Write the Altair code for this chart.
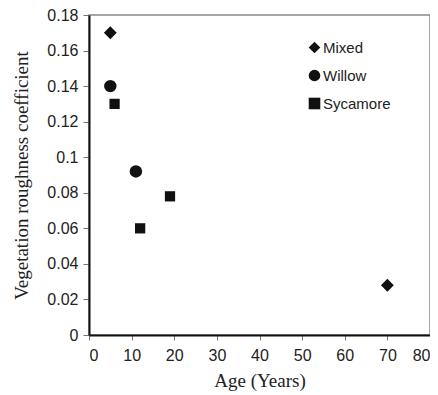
import altair as alt
import pandas as pd

series = ["Mixed", "Mixed", "Willow", "Willow", "Sycamore", "Sycamore", "Sycamore"]
age = [5, 70, 5, 11, 6, 12, 19]
coef = [0.170, 0.028, 0.140, 0.092, 0.130, 0.060, 0.078]

legend_order = ["Mixed", "Willow", "Sycamore"]
marker_sizes = [165, 155, 105]
x_ticks = [0, 10, 20, 30, 40, 50, 60, 70, 80]
y_ticks = [0, 0.02, 0.04, 0.06, 0.08, 0.10, 0.12, 0.14, 0.16, 0.18]

df = pd.DataFrame({"series": series, "age": age, "coef": coef})

base = alt.Chart(df).encode(
    x=alt.X("age:Q", title="Age (Years)",
            scale=alt.Scale(domain=[0, 80], nice=False, zero=False),
            axis=alt.Axis(values=x_ticks, format="d", tickSize=5, labelPadding=7,
                          titlePadding=8)),
    y=alt.Y("coef:Q", title="Vegetation roughness coefficient",
            scale=alt.Scale(domain=[0, 0.18], nice=False),
            axis=alt.Axis(values=y_ticks, format="~g", tickSize=6, labelPadding=5,
                          titlePadding=15)),
    shape=alt.Shape("series:N",
                    scale=alt.Scale(domain=legend_order, range=["diamond", "circle", "square"]),
                    legend=alt.Legend(title=None, orient="none", legendX=218, legendY=25,
                                      symbolSize=135, symbolFillColor="#111111",
                                      symbolStrokeColor="#111111",
                                      labelFont="Liberation Sans", labelFontSize=15,
                                      labelColor="#222222", rowPadding=9, labelOffset=1,
                                      padding=0)),
)

layers = [
    base.transform_filter(alt.datum.series == s).mark_point(
        filled=True, opacity=1, color="#111111", size=sz)
    for s, sz in zip(legend_order, marker_sizes)
]

chart = alt.layer(*layers).properties(
    width=341, height=320,
    autosize=alt.AutoSizeParams(type="none"),
    padding={"left": 81, "top": 7, "right": 0, "bottom": 60},
).configure_view(
    stroke="#888888", strokeWidth=1.5
).configure_axis(
    grid=False,
    domainColor="#111111", domainWidth=2,
    tickColor="#777777", tickWidth=1,
    labelFont="Liberation Sans", labelFontSize=16, labelColor="#222222",
    titleFont="Liberation Serif", titleFontSize=19, titleFontWeight="normal",
    titleColor="#222222",
)

chart.save("out.html", embed_options={"renderer": "svg", "actions": False})
